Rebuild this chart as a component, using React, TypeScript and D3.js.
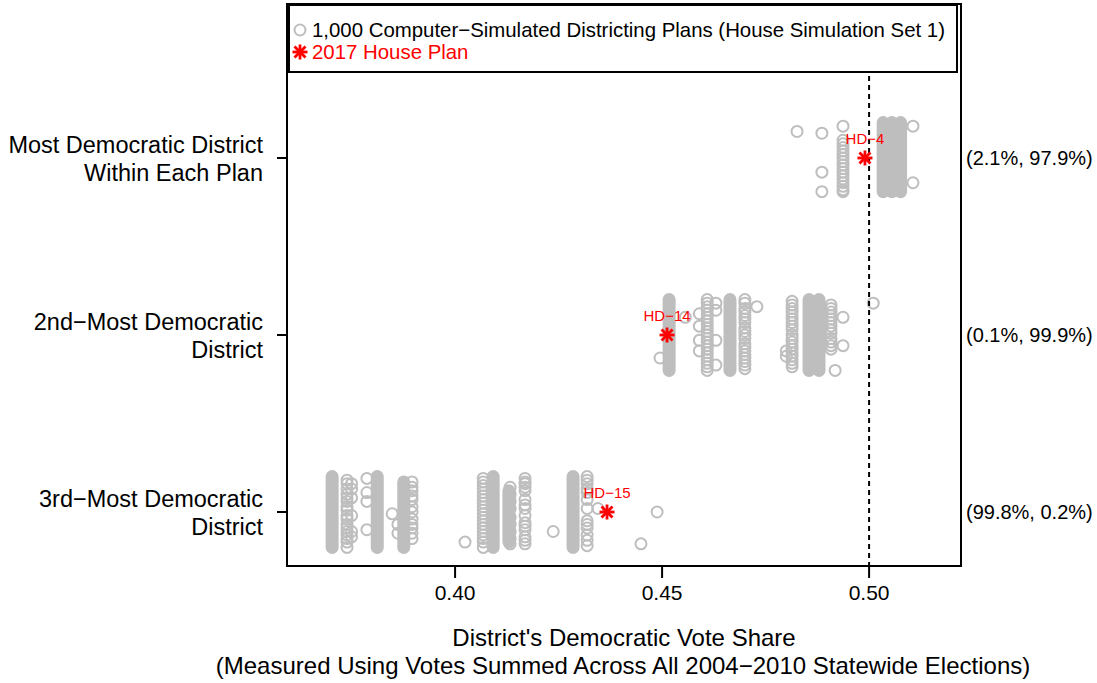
import * as d3 from 'd3';

// rows, bottom (index 0) to top
const rowLabels = [
  ['3rd\u2212Most Democratic', 'District'],
  ['2nd\u2212Most Democratic', 'District'],
  ['Most Democratic District', 'Within Each Plan'],
];
const rowShares = ['(99.8%, 0.2%)', '(0.1%, 99.9%)', '(2.1%, 97.9%)'];

// 2017 House Plan: [row, vote share, label]
const enacted: [number, number, string][] = [
  [0, 0.4367, 'HD\u221215'],
  [1, 0.4512, 'HD\u221214'],
  [2, 0.499, 'HD\u22124'],
];

// columns packed with simulated plans: [row, vote share, jitter low, jitter high]
const packedCols: [number, number, number, number][] = [
  [0, 0.3703, -0.2, 0.2],
  [0, 0.3812, -0.2, 0.2],
  [0, 0.3876, -0.2, 0.17],
  [0, 0.4092, -0.2, 0.2],
  [0, 0.413, -0.17, 0.12],
  [0, 0.4285, -0.2, 0.2],
  [1, 0.4517, -0.2, 0.2],
  [1, 0.4664, -0.2, 0.2],
  [1, 0.4855, -0.2, 0.2],
  [1, 0.4879, -0.2, 0.2],
  [2, 0.5034, -0.19, 0.2],
  [2, 0.5055, -0.19, 0.2],
  [2, 0.5076, -0.19, 0.2],
];

// individually visible simulated plans: [row, vote share, jitters]
const looseSims: [number, number, number[]][] = [
  [0, 0.3739, [0.18, 0.16, 0.13, 0.1, 0.08, 0.06, 0.03, 0.01, -0.02, -0.04, -0.07, -0.09, -0.11, -0.13, -0.15, -0.17, -0.2]],
  [0, 0.375, [0.16, 0.13, 0.08, -0.02, -0.11, -0.14]],
  [0, 0.3787, [0.19, 0.11, 0.06, -0.1]],
  [0, 0.3848, [-0.01]],
  [0, 0.3862, [-0.07, -0.12]],
  [0, 0.3896, [0.17, 0.14, 0.12, 0.09, 0.07, 0.03, 0.0, -0.04, -0.07, -0.09, -0.12, -0.15]],
  [0, 0.4024, [-0.17]],
  [0, 0.4068, [0.19, 0.17, 0.15, 0.13, 0.11, 0.09, 0.07, 0.05, 0.03, 0.01, -0.01, -0.03, -0.05, -0.07, -0.09, -0.11, -0.13, -0.15, -0.17, -0.2]],
  [0, 0.4133, [0.14, 0.1, 0.06, 0.02, -0.03, -0.07, -0.11, -0.15, -0.18]],
  [0, 0.4169, [0.19, 0.17, 0.16, 0.14, 0.12, 0.07, 0.04, 0.02, -0.02, -0.06, -0.08, -0.1, -0.14, -0.16, -0.18]],
  [0, 0.4237, [-0.11]],
  [0, 0.4319, [0.2, 0.18, 0.16, 0.13, 0.11, 0.07, 0.02, -0.05, -0.07, -0.09, -0.13, -0.16, -0.19]],
  [0, 0.4345, [0.02]],
  [0, 0.4449, [-0.18]],
  [0, 0.4488, [0.0]],
  [1, 0.4495, [-0.13]],
  [1, 0.4556, [0.1]],
  [1, 0.459, [0.12, 0.05, -0.03, -0.09]],
  [1, 0.4609, [0.2, 0.18, 0.16, 0.14, 0.12, 0.1, 0.08, 0.06, 0.04, 0.02, 0.0, -0.02, -0.04, -0.06, -0.08, -0.1, -0.12, -0.14, -0.16, -0.18, -0.2]],
  [1, 0.463, [0.18, 0.14, -0.03, -0.17]],
  [1, 0.47, [0.2, 0.18, 0.15, 0.13, 0.11, 0.09, 0.07, 0.04, 0.02, 0.0, -0.02, -0.05, -0.07, -0.09, -0.11, -0.13, -0.15, -0.17, -0.19]],
  [1, 0.4729, [0.16]],
  [1, 0.48, [-0.12, -0.09]],
  [1, 0.4814, [0.19, 0.17, 0.15, 0.13, 0.11, 0.09, 0.07, 0.05, 0.03, 0.0, -0.02, -0.04, -0.06, -0.08, -0.1, -0.12, -0.14, -0.16, -0.18]],
  [1, 0.4908, [0.17, 0.15, 0.13, 0.11, 0.09, 0.07, 0.05, 0.03, 0.01, -0.02, -0.04, -0.06, -0.08]],
  [1, 0.4918, [-0.2]],
  [1, 0.4937, [0.1, -0.06]],
  [1, 0.501, [0.18]],
  [2, 0.4826, [0.15]],
  [2, 0.4886, [0.14, -0.08, -0.19]],
  [2, 0.4937, [0.18, 0.1, 0.08, 0.06, 0.04, 0.02, 0.0, -0.02, -0.04, -0.06, -0.08, -0.1, -0.12, -0.14, -0.16, -0.18, -0.19]],
  [2, 0.5106, [0.18, -0.14]],
];

const xTicks = [0.4, 0.45, 0.5];

const W = 1097;
const H = 683;
const plot = { left: 287, right: 961, top: 4, bottom: 566 };
const GRAY = '#bebebe';
const FONT = '"Liberation Sans", Arial, Helvetica, sans-serif';
const R = 5.5;
const SW = 2;

function Star({ x, y, color }: { x: number; y: number; color: string }) {
  const a = 7.5;
  const b = 5.5;
  return (
    <g stroke={color} strokeWidth={2.8} strokeLinecap="butt">
      <line x1={x - a} y1={y} x2={x + a} y2={y} />
      <line x1={x} y1={y - a} x2={x} y2={y + a} />
      <line x1={x - b} y1={y - b} x2={x + b} y2={y + b} />
      <line x1={x - b} y1={y + b} x2={x + b} y2={y - b} />
    </g>
  );
}

export default function App() {
  const x = d3.scaleLinear().domain([0.3594, 0.5222]).range([plot.left, plot.right]);
  const y = d3.scaleLinear().domain([-0.305, 2.87]).range([plot.bottom, plot.top]);

  const pts = looseSims.flatMap(([row, v, js]) => js.map((j) => ({ row, v, j })));

  return (
    <svg
      width={W}
      height={H}
      style={{ position: 'absolute', left: 0, top: 0, background: '#fff' }}
      fontFamily={FONT}
    >
      {/* simulated plans */}
      <g fill="none" stroke={GRAY} strokeWidth={SW}>
        {pts.map((p, i) => (
          <circle key={i} cx={x(p.v)} cy={y(p.row + p.j)} r={R} />
        ))}
      </g>
      <g fill={GRAY}>
        {packedCols.map(([row, v, lo, hi], i) => {
          const w = 2 * R + SW;
          const top = y(row + hi) - w / 2;
          const bot = y(row + lo) + w / 2;
          return (
            <rect key={i} x={x(v) - w / 2} y={top} width={w} height={bot - top} rx={w / 2} ry={w / 2} />
          );
        })}
      </g>

      {/* 50% line */}
      <line
        x1={x(0.5)}
        x2={x(0.5)}
        y1={plot.top}
        y2={plot.bottom}
        stroke="#000"
        strokeWidth={2}
        strokeDasharray="5,4"
      />

      {/* enacted plan */}
      {enacted.map(([row, v, lab]) => (
        <g key={lab}>
          <Star x={x(v)} y={y(row)} color="#ff0000" />
          <text x={x(v)} y={y(row) - 14} textAnchor="middle" fontSize={15} fill="#ff0000">
            {lab}
          </text>
        </g>
      ))}

      {/* frame */}
      <rect
        x={plot.left}
        y={plot.top}
        width={plot.right - plot.left}
        height={plot.bottom - plot.top}
        fill="none"
        stroke="#000"
        strokeWidth={2}
      />

      {/* y axis */}
      {rowLabels.map((lines, i) => (
        <g key={i}>
          <line x1={plot.left - 10} x2={plot.left} y1={y(i)} y2={y(i)} stroke="#000" strokeWidth={2} />
          <text y={y(i) - 5} textAnchor="end" fontSize={23.5}>
            <tspan x={263} dy={0}>{lines[0]}</tspan>
            <tspan x={263} dy={28}>{lines[1]}</tspan>
          </text>
          <text x={966} y={y(i) + 7} fontSize={20}>
            {rowShares[i]}
          </text>
        </g>
      ))}

      {/* x axis */}
      {xTicks.map((t) => (
        <g key={t}>
          <line x1={x(t)} x2={x(t)} y1={plot.bottom} y2={plot.bottom + 12} stroke="#000" strokeWidth={2} />
          <text x={x(t)} y={600} textAnchor="middle" fontSize={21}>
            {t.toFixed(2)}
          </text>
        </g>
      ))}
      <text x={624} y={646} textAnchor="middle" fontSize={24}>
        District's Democratic Vote Share
      </text>
      <text x={623} y={674} textAnchor="middle" fontSize={24}>
        (Measured Using Votes Summed Across All 2004{'\u2212'}2010 Statewide Elections)
      </text>

      {/* legend */}
      <rect x={289} y={5} width={668} height={67} fill="#fff" stroke="#000" strokeWidth={2} />
      <circle cx={300} cy={30} r={R} fill="none" stroke={GRAY} strokeWidth={SW} />
      <text x={312} y={37} fontSize={20.4}>
        1,000 Computer{'\u2212'}Simulated Districting Plans (House Simulation Set 1)
      </text>
      <Star x={300} y={52} color="#ff0000" />
      <text x={312} y={59} fontSize={20.4} fill="#ff0000">
        2017 House Plan
      </text>
    </svg>
  );
}
